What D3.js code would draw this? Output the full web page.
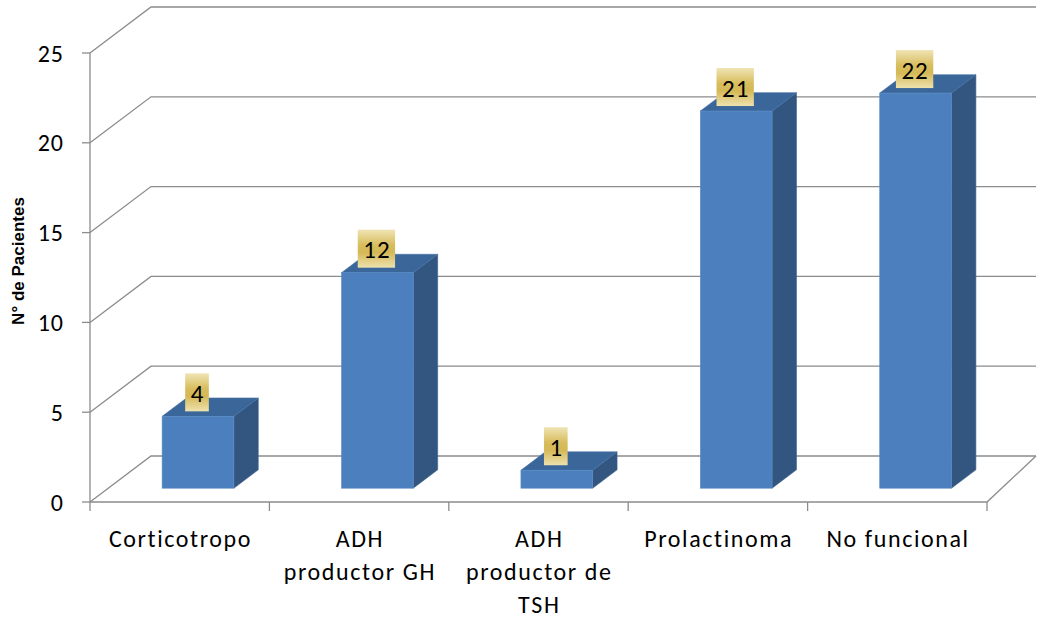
<!DOCTYPE html>
<html><head><meta charset="utf-8">
<script src="https://cdn.jsdelivr.net/npm/d3@7"></script>
<style>body{margin:0;background:#fff}svg{display:block}</style>
</head><body>
<svg id="c" width="1038" height="619"></svg>
<script>
const categories = [["Corticotropo"],["ADH","productor GH"],["ADH","productor de","TSH"],["Prolactinoma"],["No funcional"]];
const values = [4,12,1,21,22];
const yTicks = [0,5,10,15,20,25];
const yTitle = "N° de Pacientes";

const svg = d3.select("#c");
const x0 = 90, x1 = 987;
const y = d3.scaleLinear().domain([0,25]).range([502,53]);
const depth = {dx:61, dy:-46};
const backRightX = 1036;
const xb = d3.scaleBand().domain(d3.range(categories.length)).range([x0,x1]).paddingInner(0.6).paddingOuter(0.3);
const xEdge = d3.scaleBand().domain(d3.range(categories.length)).range([x0,x1]);
const gridColor = "#8c8c8c";
const font = "Carlito, Calibri, Lato, sans-serif";
const LS = 1.6;

const g = svg.append("g");
yTicks.forEach(v => {
  const yy = y(v);
  g.append("path").attr("d", `M${x0},${yy}L${x0+depth.dx},${yy+depth.dy}L${backRightX},${yy+depth.dy}`)
    .attr("fill","none").attr("stroke",gridColor).attr("stroke-width",1.3);
});
g.append("path").attr("d", `M${x0},${y(0)}L${x1},${y(0)}L${backRightX},${y(0)+depth.dy}`)
  .attr("fill","none").attr("stroke",gridColor).attr("stroke-width",1.3);
g.append("line").attr("x1",x0).attr("x2",x0).attr("y1",y(25)).attr("y2",y(0)).attr("stroke",gridColor).attr("stroke-width",1.3);
yTicks.forEach(v => {
  g.append("line").attr("x1",x0-8).attr("x2",x0).attr("y1",y(v)).attr("y2",y(v)).attr("stroke",gridColor).attr("stroke-width",1.3);
  g.append("text").attr("x",63+1).attr("y",y(v)+8.5).attr("text-anchor","end")
    .attr("font-family",font).attr("font-size",24).attr("letter-spacing",1).attr("fill","#000").text(v);
});
d3.range(categories.length+1).forEach(i => {
  const xx = i < categories.length ? xEdge(i) : x1;
  g.append("line").attr("x1",xx).attr("x2",xx).attr("y1",y(0)).attr("y2",y(0)+9).attr("stroke",gridColor).attr("stroke-width",1.3);
});
categories.forEach((lines,i) => {
  const cx = xEdge(i) + xEdge.bandwidth()/2 + LS/2;
  const t = g.append("text").attr("text-anchor","middle").attr("font-family",font).attr("font-size",24)
    .attr("letter-spacing",LS).attr("fill","#000");
  lines.forEach((ln,j) => t.append("tspan").attr("x",cx).attr("y",547 + j*33).text(ln));
});
g.append("text").attr("transform","translate(24,261) rotate(-90)").attr("text-anchor","middle")
  .attr("font-family","Liberation Sans, Arial, sans-serif").attr("font-weight","bold").attr("font-size",17).text(yTitle);

const zF = 0.3, zB = 0.7;
const defs = svg.append("defs");
const grad = defs.append("linearGradient").attr("id","gold").attr("x1",0).attr("x2",0).attr("y1",0).attr("y2",1);
[["0%","#efe4b4"],["40%","#d8bd5e"],["60%","#d5b856"],["100%","#eee2ae"]].forEach(s=>grad.append("stop").attr("offset",s[0]).attr("stop-color",s[1]));

values.forEach((v,i) => {
  const fx = xb(i) + depth.dx*zF, bw = xb.bandwidth();
  const fyB = y(0) + depth.dy*zF, fyT = y(v) + depth.dy*zF;
  const ddx = depth.dx*(zB-zF), ddy = depth.dy*(zB-zF);
  g.append("path").attr("d",`M${fx+bw},${fyT}L${fx+bw+ddx},${fyT+ddy}L${fx+bw+ddx},${fyB+ddy}L${fx+bw},${fyB}Z`)
    .attr("fill","#32567f").attr("stroke","#3c6392").attr("stroke-width",0.6);
  g.append("path").attr("d",`M${fx},${fyT}L${fx+ddx},${fyT+ddy}L${fx+bw+ddx},${fyT+ddy}L${fx+bw},${fyT}Z`)
    .attr("fill","#3b6699").attr("stroke","#4673a8").attr("stroke-width",0.6);
  g.append("rect").attr("x",fx).attr("y",fyT).attr("width",bw).attr("height",fyB-fyT)
    .attr("fill","#4b7fbd").attr("stroke","#5a8cc6").attr("stroke-width",0.6);
});
values.forEach((v,i) => {
  const cx = xb(i) + depth.dx*zF + xb.bandwidth()/2 - 1;
  const cy = y(v) + depth.dy*zF - 24;
  const lg = g.append("g");
  const t = lg.append("text").attr("x",cx+0.5).attr("y",cy+9.5).attr("text-anchor","middle")
    .attr("font-family",font).attr("font-size",25).attr("letter-spacing",1).attr("fill","#000").text(v);
  const w = t.node().getComputedTextLength() + 10;
  lg.insert("rect","text").attr("x",cx-w/2).attr("y",cy-19).attr("width",w).attr("height",38).attr("fill","url(#gold)");
});
</script>
</body></html>
